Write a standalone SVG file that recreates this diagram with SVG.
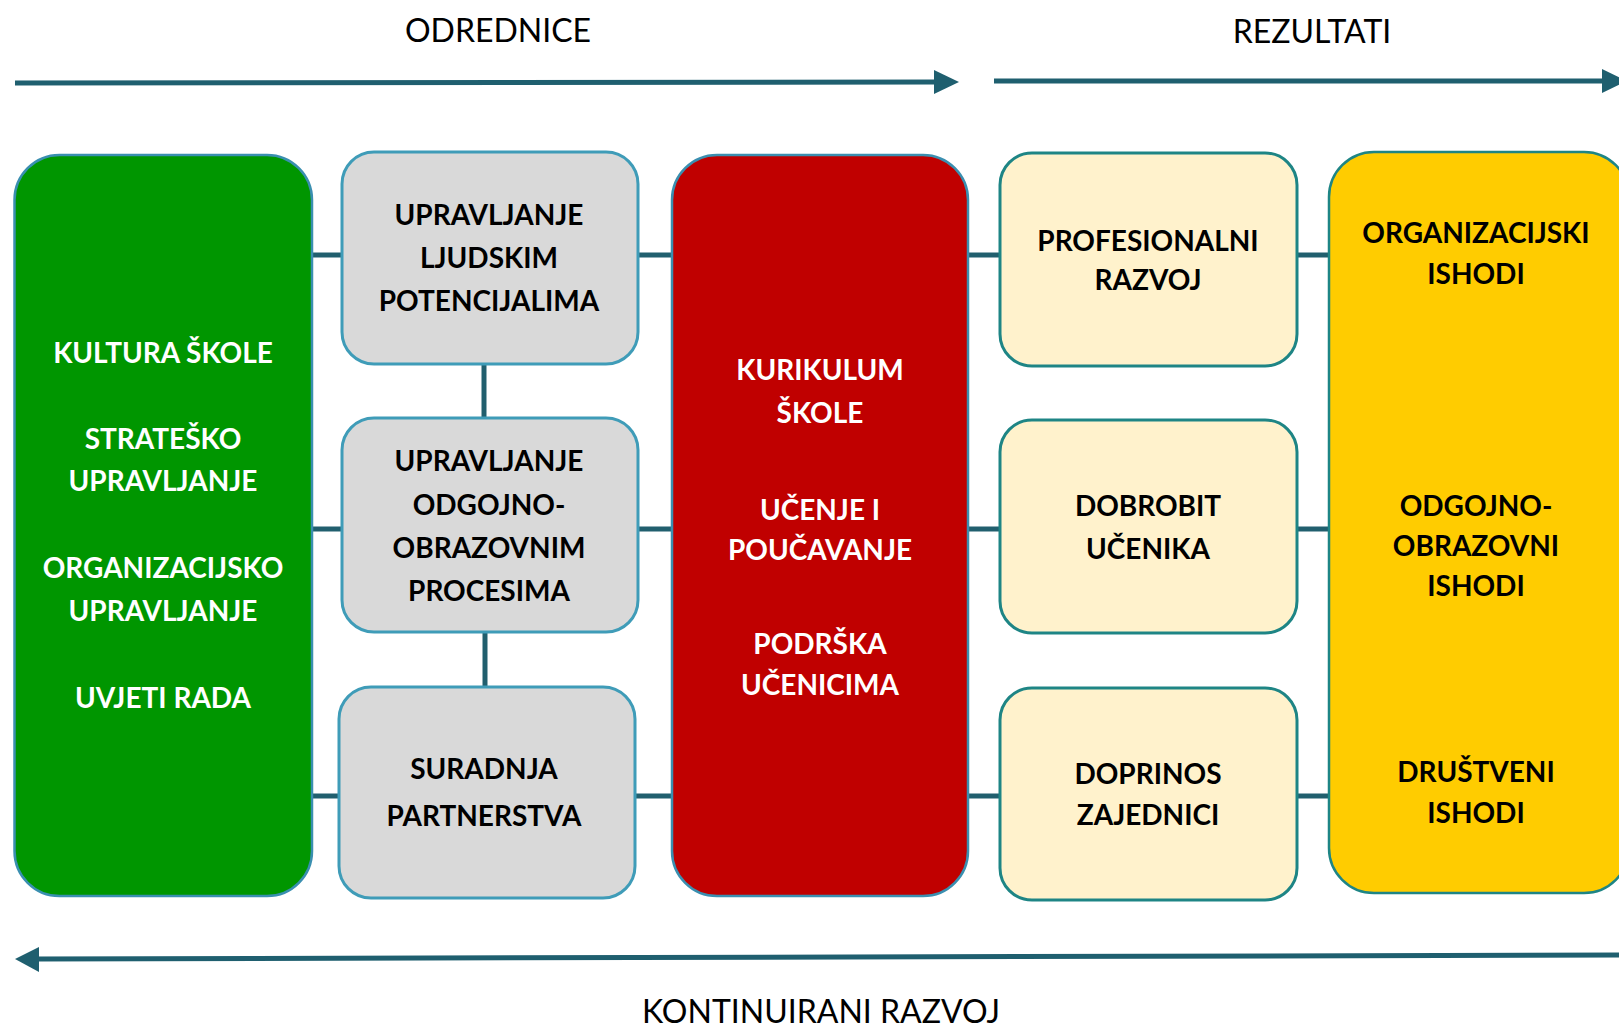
<svg xmlns="http://www.w3.org/2000/svg" width="1619" height="1027" viewBox="0 0 1619 1027">
<defs>
<style>
.hdr{font-family:Lato,"Liberation Sans",sans-serif;font-size:32px;fill:#000;text-anchor:middle}
.t{font-family:Lato,"Liberation Sans",sans-serif;font-weight:bold;font-size:28px;text-anchor:middle}
.w{fill:#fff}
.k{fill:#000}
.con{stroke:#215f6e;stroke-width:5;fill:none}
.arr{stroke:#1f5f6f;stroke-width:5;fill:none}
.head{fill:#1f5f6f}
.green{fill:#009600;stroke:#3a8fb0;stroke-width:2.5}
.red{fill:#c00000;stroke:#3a8fb0;stroke-width:2.5}
.gray{fill:#d9d9d9;stroke:#3f9cb8;stroke-width:3}
.cream{fill:#fff2cc;stroke:#1e8585;stroke-width:3}
.yellow{fill:#ffcc00;stroke:#1e8585;stroke-width:2.5}
</style>
</defs>
<rect width="1619" height="1027" fill="#fff"/>

<g id="labels">
<text class="hdr" x="498" y="42">ODREDNICE</text>
<text class="hdr" x="1312" y="43">REZULTATI</text>
<text class="hdr" x="821" y="1023">KONTINUIRANI RAZVOJ</text>
</g>

<g id="arrows">
<line class="arr" x1="15" y1="83" x2="936" y2="82"/>
<polygon class="head" points="934,70 959,82 934,94"/>
<line class="arr" x1="994" y1="81" x2="1605" y2="81"/>
<polygon class="head" points="1602,69 1627,81 1602,93"/>
<line class="arr" x1="36" y1="959" x2="1619" y2="955"/>
<polygon class="head" points="39,947 15,959 39,972"/>
</g>

<g id="connectors">
<line class="con" x1="312" y1="255" x2="342" y2="255"/>
<line class="con" x1="638" y1="255" x2="672" y2="255"/>
<line class="con" x1="968" y1="255" x2="1000" y2="255"/>
<line class="con" x1="1297" y1="255" x2="1329" y2="255"/>
<line class="con" x1="312" y1="529" x2="342" y2="529"/>
<line class="con" x1="638" y1="529" x2="672" y2="529"/>
<line class="con" x1="968" y1="529" x2="1000" y2="529"/>
<line class="con" x1="1297" y1="529" x2="1329" y2="529"/>
<line class="con" x1="312" y1="796" x2="339" y2="796"/>
<line class="con" x1="635" y1="796" x2="672" y2="796"/>
<line class="con" x1="968" y1="796" x2="1000" y2="796"/>
<line class="con" x1="1297" y1="796" x2="1329" y2="796"/>
<line class="con" x1="484" y1="364" x2="484" y2="418"/>
<line class="con" x1="485" y1="632" x2="485" y2="687"/>
</g>

<g id="n-green">
<rect class="green" x="14.5" y="155" width="297.5" height="741" rx="45"/>
<text class="t w" x="163" y="363">KULTURA ŠKOLE</text>
<text class="t w" x="163" y="449">STRATEŠKO</text>
<text class="t w" x="163" y="491">UPRAVLJANJE</text>
<text class="t w" x="163" y="578">ORGANIZACIJSKO</text>
<text class="t w" x="163" y="621">UPRAVLJANJE</text>
<text class="t w" x="163" y="708">UVJETI RADA</text>
</g>

<g id="n-gray1">
<rect class="gray" x="342" y="152" width="296" height="212" rx="32"/>
<text class="t k" x="489" y="225">UPRAVLJANJE</text>
<text class="t k" x="489" y="268">LJUDSKIM</text>
<text class="t k" x="489" y="311">POTENCIJALIMA</text>
</g>

<g id="n-gray2">
<rect class="gray" x="342" y="418" width="296" height="214" rx="32"/>
<text class="t k" x="489" y="471">UPRAVLJANJE</text>
<text class="t k" x="489" y="515">ODGOJNO-</text>
<text class="t k" x="489" y="558">OBRAZOVNIM</text>
<text class="t k" x="489" y="601">PROCESIMA</text>
</g>

<g id="n-gray3">
<rect class="gray" x="339" y="687" width="296" height="211" rx="32"/>
<text class="t k" x="484" y="779">SURADNJA</text>
<text class="t k" x="484" y="826">PARTNERSTVA</text>
</g>

<g id="n-red">
<rect class="red" x="672" y="155" width="296" height="741" rx="45"/>
<text class="t w" x="820" y="380">KURIKULUM</text>
<text class="t w" x="820" y="423">ŠKOLE</text>
<text class="t w" x="820" y="520">UČENJE I</text>
<text class="t w" x="820" y="560">POUČAVANJE</text>
<text class="t w" x="820" y="654">PODRŠKA</text>
<text class="t w" x="820" y="695">UČENICIMA</text>
</g>

<g id="n-cream1">
<rect class="cream" x="1000" y="153" width="297" height="213" rx="32"/>
<text class="t k" x="1148" y="251">PROFESIONALNI</text>
<text class="t k" x="1148" y="290">RAZVOJ</text>
</g>

<g id="n-cream2">
<rect class="cream" x="1000" y="420" width="297" height="213" rx="32"/>
<text class="t k" x="1148" y="516">DOBROBIT</text>
<text class="t k" x="1148" y="559">UČENIKA</text>
</g>

<g id="n-cream3">
<rect class="cream" x="1000" y="688" width="297" height="212" rx="32"/>
<text class="t k" x="1148" y="784">DOPRINOS</text>
<text class="t k" x="1148" y="825">ZAJEDNICI</text>
</g>

<g id="n-yellow">
<rect class="yellow" x="1329" y="152" width="300" height="741" rx="45"/>
<text class="t k" x="1476" y="243">ORGANIZACIJSKI</text>
<text class="t k" x="1476" y="284">ISHODI</text>
<text class="t k" x="1476" y="516">ODGOJNO-</text>
<text class="t k" x="1476" y="556">OBRAZOVNI</text>
<text class="t k" x="1476" y="596">ISHODI</text>
<text class="t k" x="1476" y="782">DRUŠTVENI</text>
<text class="t k" x="1476" y="823">ISHODI</text>
</g>
</svg>
